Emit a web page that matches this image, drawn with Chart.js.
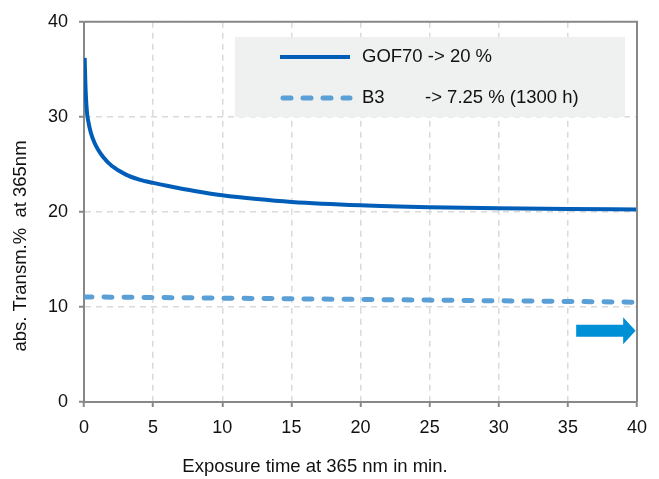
<!DOCTYPE html>
<html>
<head>
<meta charset="utf-8">
<script src="https://cdn.jsdelivr.net/npm/chart.js@4/dist/chart.umd.min.js"></script>
<style>
  body { margin: 0; background: #fff; }
  canvas { display: block; }
</style>
</head>
<body>
<canvas id="transChart" width="659" height="479"></canvas>
<script>
// exposure time (min) and abs. transmission (%)
const gofTimes = [0.05, 0.1, 0.2, 0.3, 0.5, 0.75, 1, 1.4, 2, 3, 4, 5, 6, 8, 10, 12.5, 15, 20, 25, 30, 35, 40];
const gofValues = [36.2, 33.5, 30.7, 29.6, 28.3, 27.3, 26.6, 25.75, 24.85, 23.95, 23.4, 23.05, 22.75, 22.2, 21.75, 21.35, 21.05, 20.7, 20.5, 20.38, 20.3, 20.25];

const b3Times = [0, 5, 10, 15, 20, 25, 30, 35, 40];
const b3Values = [11.05, 11.0, 10.93, 10.86, 10.79, 10.72, 10.65, 10.58, 10.5];

const legendLabels = ['GOF70 -> 20 %', 'B3', '-> 7.25 % (1300 h)'];
const xTitle = 'Exposure time at 365 nm in min.';
const yTitle = 'abs. Transm.%  at 365nm';

const FONT = '"Liberation Sans", Arial, sans-serif';
const AXIS_GREY = '#888888';
const GOF_BLUE = '#005eb8';
const B3_BLUE = '#5a9fd6';

const ctx = document.getElementById('transChart').getContext('2d');

const extras = {
    id: 'extras',
    beforeDraw(chart) {
        const c = chart.ctx;
        c.save();
        c.fillStyle = '#fff';
        c.fillRect(0, 0, chart.width, chart.height);
        c.restore();
    },
    afterDatasetsDraw(chart) {
        const c = chart.ctx;
        const a = chart.chartArea;
        const xs = chart.scales.x;
        const ys = chart.scales.y;
        c.save();

        // top + right frame
        c.strokeStyle = AXIS_GREY;
        c.lineWidth = 2;
        c.beginPath();
        c.moveTo(a.left, a.top);
        c.lineTo(a.right, a.top);
        c.lineTo(a.right, a.bottom);
        c.stroke();

        // legend box
        c.fillStyle = '#eff0f0';
        c.fillRect(235, 37, 390, 80);
        c.lineWidth = 4;
        c.strokeStyle = GOF_BLUE;
        c.beginPath();
        c.moveTo(280, 57);
        c.lineTo(350, 57);
        c.stroke();
        c.lineWidth = 5;
        c.lineCap = 'round';
        c.setLineDash([8, 12]);
        c.strokeStyle = B3_BLUE;
        c.beginPath();
        c.moveTo(283, 98);
        c.lineTo(350, 98);
        c.stroke();
        c.setLineDash([]);
        c.lineCap = 'butt';

        c.fillStyle = '#111';
        c.font = '18.5px ' + FONT;
        c.textBaseline = 'middle';
        c.textAlign = 'left';
        c.fillText(legendLabels[0], 362, 57);
        c.fillText(legendLabels[1], 362, 98);
        c.fillText(legendLabels[2], 425, 98);

        // arrow
        const x0 = xs.getPixelForValue(35.6);
        const xh = xs.getPixelForValue(39.0);
        const xt = xs.getPixelForValue(39.9);
        const yc = ys.getPixelForValue(7.5);
        c.fillStyle = '#0090d6';
        c.beginPath();
        c.moveTo(x0, yc - 6);
        c.lineTo(xh, yc - 6);
        c.lineTo(xh, yc - 13.5);
        c.lineTo(xt, yc);
        c.lineTo(xh, yc + 13.5);
        c.lineTo(xh, yc + 6);
        c.lineTo(x0, yc + 6);
        c.closePath();
        c.fill();

        // axis titles
        c.fillStyle = '#111';
        c.font = '18.5px ' + FONT;
        c.textAlign = 'center';
        c.fillText(xTitle, 315, 467);
        c.translate(21, 246);
        c.rotate(-Math.PI / 2);
        c.fillText(yTitle, 0, 0);
        c.restore();
    }
};

new Chart(ctx, {
    type: 'line',
    data: {
        datasets: [{
            label: 'GOF70',
            data: gofTimes.map((t, i) => ({ x: t, y: gofValues[i] })),
            borderColor: GOF_BLUE,
            borderWidth: 4,
            pointRadius: 0,
            cubicInterpolationMode: 'monotone',
            fill: false
        }, {
            label: 'B3',
            data: b3Times.map((t, i) => ({ x: t, y: b3Values[i] })),
            borderColor: B3_BLUE,
            borderWidth: 5,
            borderDash: [8, 12],
            borderCapStyle: 'round',
            pointRadius: 0,
            tension: 0,
            fill: false
        }]
    },
    options: {
        responsive: false,
        animation: false,
        layout: {
            padding: { top: 20, right: 22, left: 0, bottom: 0 }
        },
        plugins: {
            legend: { display: false },
            tooltip: { enabled: false }
        },
        scales: {
            x: {
                type: 'linear',
                min: 0,
                max: 40,
                afterFit(scale) { scale.height = 77; },
                ticks: {
                    stepSize: 5,
                    padding: 10,
                    color: '#111',
                    font: { family: FONT, size: 18 },
                    maxRotation: 0
                },
                grid: {
                    color: '#dadada',
                    lineWidth: 1.5,
                    tickLength: 5,
                    tickColor: AXIS_GREY,
                    tickWidth: 2,
                    tickBorderDash: []
                },
                border: { color: AXIS_GREY, width: 2, dash: [6, 5] }
            },
            y: {
                min: 0,
                max: 40,
                afterFit(scale) { scale.width = 84; },
                ticks: {
                    stepSize: 10,
                    padding: 11,
                    color: '#111',
                    font: { family: FONT, size: 18 }
                },
                grid: {
                    color: '#dadada',
                    lineWidth: 1.5,
                    tickLength: 5,
                    tickColor: AXIS_GREY,
                    tickWidth: 2,
                    tickBorderDash: []
                },
                border: { color: AXIS_GREY, width: 2, dash: [6, 5] }
            }
        }
    },
    plugins: [extras]
});
</script>
</body>
</html>
